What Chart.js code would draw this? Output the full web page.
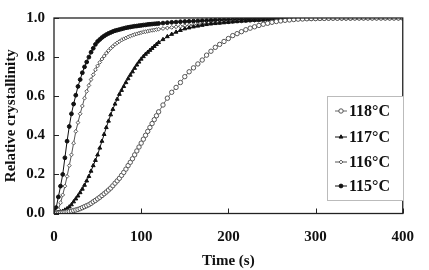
<!DOCTYPE html>
<html>
<head>
<meta charset="utf-8">
<script src="https://cdn.jsdelivr.net/npm/chart.js@4"></script>
<style>
  html, body { margin: 0; padding: 0; background: #fff; }
  #wrap { width: 429px; height: 270px; }
</style>
</head>
<body>
<div id="wrap"><canvas id="crystChart" width="429" height="270"></canvas></div>
<script>
// Relative crystallinity vs time
// (every 2.5 s up to 120 s, then every 5 s)

const times = [];
for (let t = 0; t <= 120; t += 2.5) times.push(t);
for (let t = 125; t <= 400; t += 5) times.push(t);

const label118 = '118\u00B0C', label117 = '117\u00B0C', label116 = '116\u00B0C', label115 = '115\u00B0C';

const xTicks = [0, 100, 200, 300, 400];
const yTicks = [0, 0.2, 0.4, 0.6, 0.8, 1.0];

const cryst118 = [
    // 0 - 120 s, step 2.5
    0, 0.001, 0.002, 0.003, 0.004, 0.006, 0.008, 0.01, 0.012, 0.015,
    0.018, 0.021, 0.025, 0.03, 0.035, 0.04, 0.045, 0.052, 0.06, 0.067,
    0.075, 0.083, 0.092, 0.101, 0.11, 0.12, 0.13, 0.142, 0.155, 0.167,
    0.18, 0.195, 0.21, 0.227, 0.245, 0.262, 0.28, 0.30, 0.32, 0.34,
    0.36, 0.38, 0.40, 0.42, 0.44, 0.46, 0.48, 0.50, 0.52,
    // 125 - 400 s, step 5
    0.555, 0.59, 0.62, 0.645, 0.67,
    0.70, 0.725, 0.745, 0.765, 0.785, 0.81, 0.83, 0.85, 0.865, 0.88,
    0.895, 0.91, 0.92, 0.93, 0.94, 0.948, 0.955, 0.962, 0.968, 0.973,
    0.978, 0.982, 0.985, 0.988, 0.99, 0.992, 0.994, 0.995, 0.996, 0.997,
    0.997, 0.998, 0.998, 0.999, 0.999, 0.999, 1, 1, 1, 1,
    1, 1, 1, 1, 1, 1, 1, 1, 1, 1,
    1
];
const cryst117 = [
    0, 0.002, 0.005, 0.008, 0.012, 0.018, 0.025, 0.034, 0.045, 0.06,
    0.075, 0.09, 0.107, 0.125, 0.145, 0.167, 0.19, 0.217, 0.245, 0.272,
    0.30, 0.335, 0.37, 0.405, 0.44, 0.473, 0.505, 0.533, 0.56, 0.585,
    0.61, 0.63, 0.65, 0.67, 0.69, 0.708, 0.725, 0.743, 0.76, 0.775,
    0.79, 0.803, 0.815, 0.825, 0.835, 0.845, 0.855, 0.865, 0.875,
    0.89, 0.905, 0.917, 0.928, 0.937,
    0.945, 0.95, 0.955, 0.959, 0.963, 0.967, 0.97, 0.972, 0.974, 0.976,
    0.978, 0.98, 0.982, 0.984, 0.985, 0.987, 0.988, 0.989, 0.99, 0.991,
    0.991, 0.992, 0.993, 0.994, 0.994, 0.995, 0.995, 0.996, 0.996, 0.996,
    0.997, 0.997, 0.997, 0.998, 0.998, 0.998, 0.998, 0.999, 0.999, 0.999,
    0.999, 0.999, 1, 1, 1, 1, 1, 1, 1, 1,
    1
];
const cryst116 = [
    0, 0.005, 0.02, 0.055, 0.095, 0.14, 0.19, 0.245, 0.30, 0.36,
    0.42, 0.465, 0.51, 0.55, 0.59, 0.625, 0.655, 0.685, 0.71, 0.735,
    0.755, 0.773, 0.79, 0.805, 0.82, 0.833, 0.845, 0.855, 0.865, 0.873,
    0.88, 0.887, 0.893, 0.898, 0.903, 0.908, 0.912, 0.916, 0.919, 0.922,
    0.925, 0.928, 0.93, 0.933, 0.935, 0.937, 0.939, 0.941, 0.943,
    0.946, 0.949, 0.952, 0.955, 0.958,
    0.96, 0.963, 0.965, 0.967, 0.969, 0.971, 0.973, 0.975, 0.977, 0.979,
    0.98, 0.982, 0.983, 0.984, 0.985, 0.986, 0.987, 0.988, 0.989, 0.99,
    0.99, 0.991, 0.992, 0.993, 0.993, 0.994, 0.995, 0.995, 0.996, 0.996,
    0.996, 0.997, 0.997, 0.997, 0.998, 0.998, 0.998, 0.998, 0.999, 0.999,
    0.999, 0.999, 0.999, 1, 1, 1, 1, 1, 1, 1,
    1
];
const cryst115 = [
    0, 0.03, 0.085, 0.14, 0.2, 0.285, 0.37, 0.445, 0.51, 0.56,
    0.605, 0.65, 0.685, 0.72, 0.75, 0.775, 0.8, 0.825, 0.845, 0.865,
    0.88, 0.89, 0.9, 0.908, 0.915, 0.921, 0.926, 0.931, 0.935, 0.938,
    0.941, 0.944, 0.947, 0.95, 0.952, 0.954, 0.956, 0.958, 0.959, 0.961,
    0.962, 0.964, 0.965, 0.967, 0.968, 0.969, 0.97, 0.971, 0.972,
    0.974, 0.976, 0.978, 0.979, 0.981,
    0.982, 0.983, 0.984, 0.985, 0.986, 0.987, 0.988, 0.989, 0.99, 0.99,
    0.991, 0.992, 0.992, 0.993, 0.993, 0.994, 0.994, 0.995, 0.995, 0.995,
    0.996, 0.996, 0.996, 0.997, 0.997, 0.997, 0.997, 0.998, 0.998, 0.998,
    0.998, 0.998, 0.999, 0.999, 0.999, 0.999, 0.999, 0.999, 0.999, 1,
    1, 1, 1, 1, 1, 1, 1, 1, 1, 1,
    1
];

const serif = '"Liberation Serif", "DejaVu Serif", serif';

function series(label, values, style) {
    return Object.assign({
        label: label,
        data: values.map((v, i) => ({ x: times[i], y: v })),
        borderWidth: 1,
        tension: 0
    }, style);
}

// Draws the box frame, inward ticks and the boxed legend
const frameAndLegend = {
    id: 'frameAndLegend',
    afterDatasetsDraw(chart) {
        const ctx = chart.ctx;
        const a = chart.chartArea;
        const xs = chart.scales.x, ys = chart.scales.y;
        ctx.save();
        ctx.strokeStyle = '#222';
        ctx.lineWidth = 1.3;
        ctx.strokeRect(a.left, a.top, a.right - a.left, a.bottom - a.top);
        ctx.lineWidth = 1;
        ctx.beginPath();
        xTicks.forEach(v => {
            const px = Math.round(xs.getPixelForValue(v)) + 0.5;
            ctx.moveTo(px, a.bottom);
            ctx.lineTo(px, a.bottom - 5);
        });
        yTicks.forEach(v => {
            const py = Math.round(ys.getPixelForValue(v)) + 0.5;
            ctx.moveTo(a.left, py);
            ctx.lineTo(a.left + 5, py);
        });
        ctx.stroke();

        // legend box
        const bx = 327.5, by = 96.5, bw = 76, bh = 104;
        ctx.fillStyle = '#fff';
        ctx.fillRect(bx, by, bw, bh);
        ctx.strokeStyle = '#bbb';
        ctx.lineWidth = 1;
        ctx.strokeRect(bx, by, bw, bh);

        const rows = [111, 137, 162, 186];
        ctx.font = 'bold 16px ' + serif;
        ctx.textBaseline = 'middle';
        ctx.textAlign = 'left';
        chart.data.datasets.forEach((ds, i) => {
            const ry = rows[i];
            ctx.strokeStyle = ds.borderColor;
            ctx.lineWidth = 1;
            ctx.beginPath();
            ctx.moveTo(335, ry);
            ctx.lineTo(347, ry);
            ctx.stroke();
            ctx.fillStyle = ds.pointBackgroundColor;
            ctx.strokeStyle = ds.pointBorderColor;
            Chart.helpers.drawPoint(ctx, {
                pointStyle: ds.pointStyle, radius: ds.pointRadius,
                borderWidth: 1, rotation: 0
            }, 341, ry);
            ctx.fillStyle = '#111';
            ctx.fillText(ds.label, 349, ry + 1);
        });
        ctx.restore();
    }
};

const ctx = document.getElementById('crystChart');
new Chart(ctx.getContext('2d'), {
    type: 'line',
    data: {
        datasets: [
            series(label118, cryst118, {
                borderColor: '#666', pointStyle: 'circle', pointRadius: 2.2,
                pointBackgroundColor: '#fff', pointBorderColor: '#555', pointBorderWidth: 1
            }),
            series(label117, cryst117, {
                borderColor: '#111', pointStyle: 'triangle', pointRadius: 2.2,
                pointBackgroundColor: '#111', pointBorderColor: '#111', pointBorderWidth: 1
            }),
            series(label116, cryst116, {
                borderColor: '#555', pointStyle: 'rectRot', pointRadius: 1.9,
                pointBackgroundColor: '#fff', pointBorderColor: '#555', pointBorderWidth: 1
            }),
            series(label115, cryst115, {
                borderColor: '#111', pointStyle: 'circle', pointRadius: 1.9,
                pointBackgroundColor: '#111', pointBorderColor: '#111', pointBorderWidth: 1
            })
        ]
    },
    options: {
        responsive: false,
        animation: false,
        layout: { padding: { top: 9, right: 14, left: 0, bottom: 0 } },
        plugins: {
            legend: { display: false },
            tooltip: { enabled: false }
        },
        scales: {
            x: {
                type: 'linear', min: 0, max: 400,
                afterBuildTicks: s => { s.ticks = xTicks.map(v => ({ value: v })); },
                grid: { display: false, drawTicks: false },
                border: { display: false },
                ticks: { color: '#111', padding: 15, font: { family: serif, size: 15, weight: 'bold' } },
                title: {
                    display: true, text: 'Time (s)', color: '#111',
                    padding: { top: 0, bottom: 0 },
                    font: { family: serif, size: 15, weight: 'bold' }
                },
                afterFit: s => { s.height = 56.5; }
            },
            y: {
                min: 0, max: 1,
                afterBuildTicks: s => { s.ticks = yTicks.map(v => ({ value: v })); },
                grid: { display: false, drawTicks: false },
                border: { display: false },
                ticks: {
                    color: '#111', padding: 9,
                    font: { family: serif, size: 15, weight: 'bold' },
                    callback: v => v.toFixed(1)
                },
                title: {
                    display: true, text: 'Relative crystallinity', color: '#111',
                    padding: { top: 2, bottom: 0 },
                    font: { family: serif, size: 15, weight: 'bold' }
                },
                afterFit: s => { s.width = 54; }
            }
        }
    },
    plugins: [frameAndLegend]
});
</script>
</body>
</html>
